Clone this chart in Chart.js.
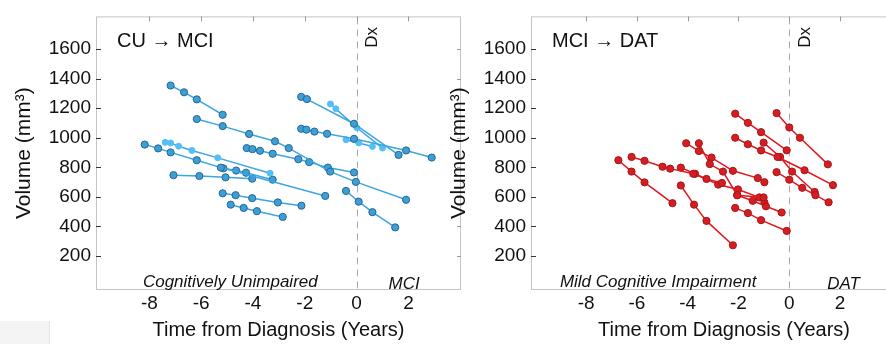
<!DOCTYPE html>
<html>
<head>
<meta charset="utf-8">
<script src="https://cdn.jsdelivr.net/npm/chart.js@4.4.1/dist/chart.umd.min.js"></script>
<style>
html, body { margin: 0; padding: 0; background: #fff; overflow: hidden; }
#wrap { position: relative; width: 886px; height: 344px; overflow: hidden; }
#leftBox { position: absolute; left: 0; top: 0; width: 470px; height: 344px; }
#rightBox { position: absolute; left: 435px; top: 0; width: 487px; height: 344px; }
#smudge { position: absolute; left: 0; top: 321px; width: 49px; height: 23px; background: #f4f4f4; border-right: 1px solid #e4e4e4; }
</style>
</head>
<body>
<div id="wrap">
  <div id="smudge"></div>
  <div id="leftBox"><canvas id="cuChart" width="470" height="344"></canvas></div>
  <div id="rightBox"><canvas id="mciChart" width="487" height="344"></canvas></div>
</div>
<script>
// tick labels
const xTicks = [-8, -6, -4, -2, 0, 2];
const yTicks = [200, 400, 600, 800, 1000, 1200, 1400, 1600];

// CU -> MCI : one row per subject (years from diagnosis / volume mm3)
const cuTimes = [
    [-7.18, -6.66, -6.17, -5.17],
    [-6.17, -5.17, -4.15, -3.15, -2.62, -1.02, -0.03, 1.91],
    [-8.18, -7.66, -7.18, -6.17, -5.24, -1.21],
    [-7.39, -7.18, -6.87, -6.36, -5.36, -3.34],
    [-5.14, -4.65, -4.27, -3.24],
    [-7.07, -6.07, -5.06, -4.03],
    [-2.14, -1.94, -1.63, -1.14, -0.10, 1.91, 2.90],
    [-2.14, -1.92, -0.10, 1.62],
    [-1.01, -0.80, 0.01, 1.00],
    [-0.41, 0.08, 0.61],
    [-4.24, -4.02, -3.73, -3.24, -2.25, -1.83, -1.11, -0.10],
    [-5.17, -4.67, -4.03, -3.04, -2.13],
    [-4.86, -4.36, -3.85, -2.85],
    [-0.41, 0.08, 0.61, 1.49]
];
const cuVolumes = [
    [1354, 1308, 1260, 1156],
    [1127, 1079, 1026, 976, 930, 771, 701, 580],
    [954, 928, 901, 848, 798, 606],
    [969, 965, 943, 914, 864, 760],
    [793, 778, 763, 716],
    [747, 741, 732, 723],
    [1061, 1055, 1042, 1027, 993, 914, 866],
    [1277, 1262, 1095, 884],
    [1229, 1196, 1068, 930],
    [987, 965, 941],
    [930, 923, 912, 892, 855, 835, 798, 765],
    [624, 611, 591, 562, 540],
    [547, 525, 503, 464],
    [640, 567, 496, 393]
];
// lighter (paler) markers in the picture
const cuPale = [false, false, false, true, false, false, false, false, true, true, false, false, false, false];

// MCI -> DAT
const mciTimes = [
    [-6.73, -6.21, -5.70, -4.60],
    [-6.21, -5.70, -4.99, -4.69, -3.78, -3.26, -2.65],
    [-2.13, -1.63, -1.11, -0.10],
    [-0.50, 0.00, 0.42, 1.52],
    [-2.13, -1.63, -1.11, -0.46, 0.60, 1.72],
    [-4.27, -3.75, -3.26, -2.22],
    [-4.06, -3.56, -3.06, -2.22, -1.24, -0.98],
    [-3.56, -3.13, -2.61, -2.05, -1.01],
    [-2.13, -1.63, -1.11, -0.10],
    [-2.05, -1.44, -0.92, -0.30],
    [-0.50, 0.00, 0.51, 1.03, 1.55],
    [-1.01, -0.36, 0.11, 1.00],
    [-4.27, -3.71, -2.80, -2.02, -1.18, -0.98]
];
const mciVolumes = [
    [848, 771, 698, 557],
    [870, 844, 804, 791, 756, 721, 694],
    [1163, 1101, 1038, 915],
    [1167, 1070, 1000, 820],
    [1000, 956, 914, 870, 780, 679],
    [677, 547, 437, 272],
    [963, 910, 866, 776, 727, 699],
    [963, 822, 771, 611, 596],
    [525, 490, 442, 369],
    [611, 573, 536, 494],
    [767, 716, 661, 611, 563],
    [967, 870, 771, 633],
    [798, 756, 683, 650, 596, 563]
];

const FONT = "'Liberation Sans', Arial, Helvetica, sans-serif";

// box, dashed diagnosis line, inside tick marks and the panel texts
const panelDecor = {
    id: 'panelDecor',
    beforeDatasetsDraw(chart, args, opts) {
        const ctx = chart.ctx;
        const a = chart.chartArea;
        const xs = chart.scales.x, ys = chart.scales.y;
        ctx.save();
        ctx.lineWidth = 1;
        ctx.strokeStyle = '#c4c4c4';
        ctx.strokeRect(a.left + 0.5, a.top + 0.5, a.right - a.left - 1, a.bottom - a.top - 1);

        const x0 = Math.round(xs.getPixelForValue(0)) + 0.5;
        ctx.strokeStyle = '#acacac';
        ctx.setLineDash([7, 5]);
        ctx.beginPath();
        ctx.moveTo(x0, a.top + 1);
        ctx.lineTo(x0, a.bottom - 1);
        ctx.stroke();
        ctx.setLineDash([]);

        // inside ticks
        yTicks.forEach(v => {
            const py = Math.round(ys.getPixelForValue(v)) + 0.5;
            ctx.strokeStyle = '#333';
            ctx.beginPath(); ctx.moveTo(a.left, py); ctx.lineTo(a.left + 5, py); ctx.stroke();
            ctx.strokeStyle = '#9a9a9a';
            ctx.beginPath(); ctx.moveTo(a.right - 4, py); ctx.lineTo(a.right, py); ctx.stroke();
        });
        ctx.strokeStyle = '#9a9a9a';
        xTicks.forEach(v => {
            const px = Math.round(xs.getPixelForValue(v)) + 0.5;
            ctx.beginPath(); ctx.moveTo(px, a.top); ctx.lineTo(px, a.top + 5); ctx.stroke();
        });
        ctx.restore();
    },
    afterDatasetsDraw(chart, args, opts) {
        const ctx = chart.ctx;
        const a = chart.chartArea;
        const x0 = chart.scales.x.getPixelForValue(0);
        ctx.save();
        ctx.fillStyle = '#111';
        ctx.textBaseline = 'alphabetic';
        ctx.textAlign = 'left';
        ctx.font = '20px ' + FONT;
        ctx.fillText(opts.title, a.left + 21, a.top + 31);

        ctx.font = 'italic 17px ' + FONT;
        ctx.textAlign = 'center';
        ctx.fillText(opts.before, (a.left + x0) / 2 + opts.beforeShift, a.top + 271);
        ctx.textAlign = 'left';
        ctx.fillText(opts.after, x0 + opts.afterShift, a.top + 273);

        ctx.translate(x0 + 16, a.top + 21);
        ctx.rotate(-Math.PI / 2);
        ctx.textAlign = 'center';
        ctx.textBaseline = 'middle';
        ctx.font = '17px ' + FONT;
        ctx.fillText('Dx', 0, 0);
        ctx.restore();
    }
};

function buildSets(times, vols, pale, line, fill, edge, paleFill) {
    return times.map((t, i) => ({
        data: t.map((tv, j) => ({ x: tv, y: vols[i][j] })),
        showLine: true,
        borderColor: line,
        borderWidth: 1.5,
        pointRadius: pale && pale[i] ? 3 : 3.6,
        pointBackgroundColor: pale && pale[i] ? paleFill : fill,
        pointBorderColor: pale && pale[i] ? paleFill : edge,
        pointBorderWidth: 1
    }));
}

function makeOptions(xMin, xMax, padRight, decor) {
    return {
        responsive: false,
        animation: false,
        layout: { padding: { top: 9, right: padRight, left: 0, bottom: 0 } },
        plugins: {
            legend: { display: false },
            tooltip: { enabled: false },
            panelDecor: decor
        },
        scales: {
            x: {
                type: 'linear', min: xMin, max: xMax,
                afterBuildTicks: s => { s.ticks = xTicks.map(v => ({ value: v })); },
                afterFit: s => { s.height = 54; },
                grid: { display: false, drawTicks: false },
                border: { display: false },
                ticks: { padding: 2, color: '#111', font: { family: FONT, size: 19 }, maxRotation: 0, autoSkip: false,
                         callback: v => String(v) },
                title: { display: true, text: 'Time from Diagnosis (Years)', color: '#111',
                         font: { family: FONT, size: 20 }, padding: { top: 0, bottom: 2 } }
            },
            y: {
                type: 'linear', min: -31, max: 1822,
                afterBuildTicks: s => { s.ticks = yTicks.map(v => ({ value: v })); },
                afterFit: s => { s.width = 96; },
                grid: { display: false, drawTicks: false },
                border: { display: false },
                ticks: { padding: 5, color: '#111', font: { family: FONT, size: 19 }, autoSkip: false,
                         callback: v => String(v) },
                title: { display: true, text: 'Volume (mm\u00B3)', color: '#111',
                         font: { family: FONT, size: 21 }, padding: { top: 12, bottom: 0 } }
            }
        }
    };
}

new Chart(document.getElementById('cuChart'), {
    type: 'scatter',
    data: { datasets: buildSets(cuTimes, cuVolumes, cuPale, '#3aa6e2', '#3c9fd7', '#2b6690', '#55bff4') },
    options: makeOptions(-10.06, 4.03, 9, {
        title: 'CU \u2192 MCI', before: 'Cognitively Unimpaired', beforeShift: 4,
        after: 'MCI', afterShift: 32
    }),
    plugins: [panelDecor]
});

new Chart(document.getElementById('mciChart'), {
    type: 'scatter',
    data: { datasets: buildSets(mciTimes, mciVolumes, null, '#e3161e', '#d71d24', '#a31717', '#d71d24') },
    options: makeOptions(-10.17, 5.03, 1, {
        title: 'MCI \u2192 DAT', before: 'Mild Cognitive Impairment', beforeShift: -2,
        after: 'DAT', afterShift: 38
    }),
    plugins: [panelDecor]
});
</script>
</body>
</html>
